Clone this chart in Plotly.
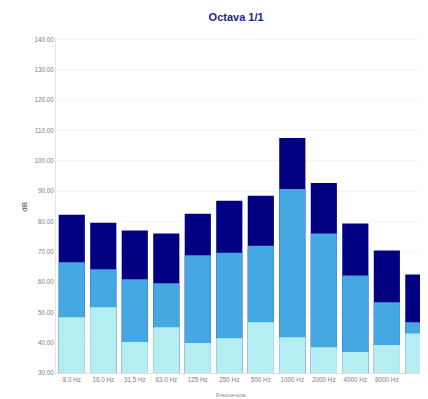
import plotly.graph_objects as go

bands = ["8.0 Hz", "16.0 Hz", "31.5 Hz", "63.0 Hz", "125 Hz", "250 Hz", "500 Hz",
         "1000 Hz", "2000 Hz", "4000 Hz", "8000 Hz", "16000 Hz"]
lmax = [82.2, 79.6, 77.0, 76.0, 82.5, 86.8, 88.5, 107.5, 92.7, 79.3, 70.4, 62.5]
leq = [66.5, 64.2, 60.9, 59.6, 68.8, 69.7, 72.0, 90.7, 76.0, 62.2, 53.3, 46.7]
lmin = [48.4, 51.7, 40.2, 45.1, 39.9, 41.5, 46.7, 41.8, 38.5, 36.9, 39.2, 43.0]
ytick_vals = [30, 40, 50, 60, 70, 80, 90, 100, 110, 120, 130, 140]
# the last band's label falls outside the visible area in the reference
xtick_labels = bands[:11]

fig = go.Figure()
fig.add_trace(go.Bar(x=bands, y=lmax, name="Lmax", marker_color="#000080",
                     marker_line_width=0))
fig.add_trace(go.Bar(x=bands, y=leq, name="Leq", marker_color="#45a8e2",
                     marker_line_width=0))
fig.add_trace(go.Bar(x=bands, y=lmin, name="Lmin", marker_color="#b4eef2",
                     marker_line_width=0))

fig.update_layout(
    width=428, height=399,
    margin=dict(l=48, r=0, t=30, b=34, autoexpand=False),
    paper_bgcolor="white", plot_bgcolor="white",
    barmode="overlay", bargap=0.17,
    showlegend=False,
    font=dict(family="Arial, Liberation Sans, sans-serif", color="#777777", size=6),
    title=dict(text="<b>Octava 1/1</b>", x=0.533, xanchor="center", y=0.977, yanchor="middle",
               font=dict(size=11, color="#1f1f8f")),
    annotations=[
        dict(text="dB", x=-0.1, y=0.495, xref="paper", yref="paper", showarrow=False,
             textangle=-90, font=dict(size=8, color="#444444")),
        dict(text="Frecuencia", x=0.46, y=-0.08, xref="paper", yref="paper",
             showarrow=False, font=dict(size=6, color="#888888")),
    ],
)
fig.update_xaxes(type="category", range=[-0.5, 11.56], showline=True, linecolor="#dddddd",
                 ticks="", tickvals=xtick_labels, ticktext=xtick_labels,
                 tickfont=dict(size=6.3, color="#808080"), tickangle=0)
fig.update_yaxes(range=[30, 140.5], tickvals=ytick_vals, tickformat=".2f",
                 showline=True, linecolor="#e4e4e4", showgrid=True, gridcolor="#f6f6f6",
                 zeroline=False, tickfont=dict(size=6.3, color="#808080"), ticks="")

fig.write_html("out.html")
